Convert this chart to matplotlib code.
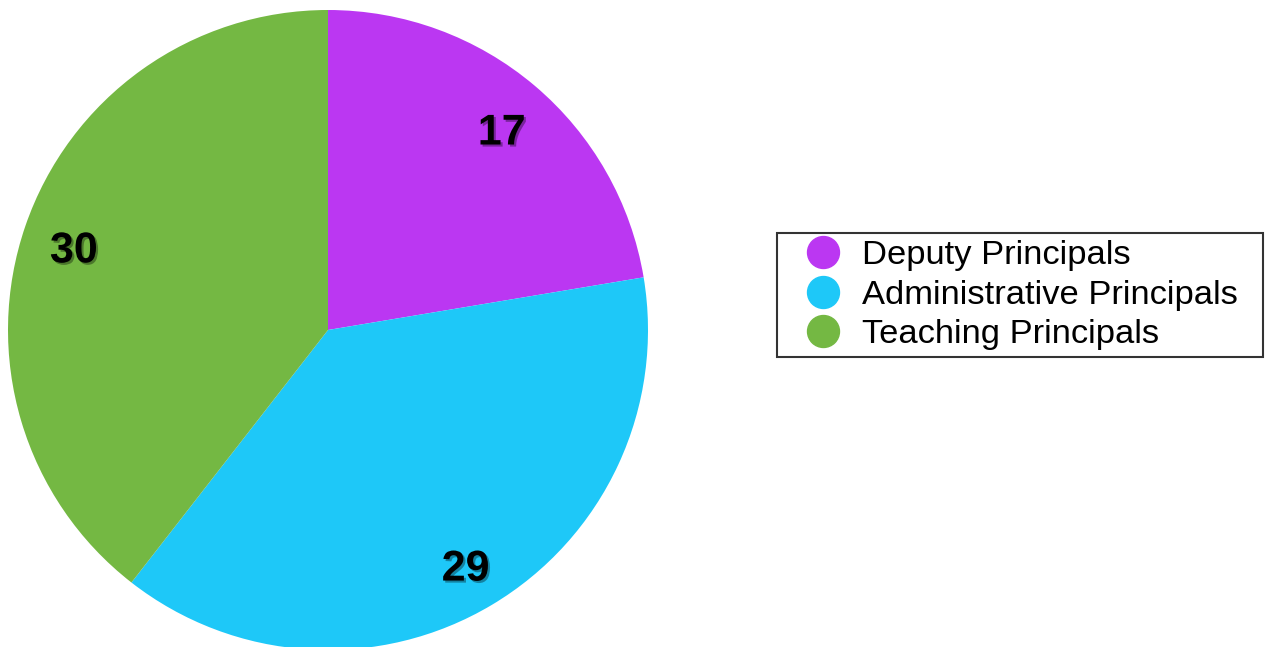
import matplotlib
matplotlib.use("Agg")
import matplotlib.pyplot as plt
import matplotlib.patheffects as pe
from matplotlib.lines import Line2D

plt.rcParams['font.family'] = ['Liberation Sans', 'DejaVu Sans']

# data
categories = ['Deputy Principals', 'Administrative Principals', 'Teaching Principals']
counts = [17, 29, 30]
colors = ['#BB37F2', '#1EC8F8', '#74B843']

fig = plt.figure(figsize=(12.65, 6.47), dpi=100)
ax = fig.add_axes([8 / 1265, -3 / 647, 640 / 1265, 640 / 647])

wedges, texts, autotexts = ax.pie(
    counts, colors=colors, startangle=90, counterclock=False,
    radius=1.0, pctdistance=0.84,
    autopct=lambda p: '%d' % round(p * sum(counts) / 100.0),
    wedgeprops=dict(linewidth=0),
)
ax.set_xlim(-1, 1)
ax.set_ylim(-1, 1)
ax.set_aspect('equal')

shadow = [pe.SimplePatchShadow(offset=(1.5, -1.5), shadow_rgbFace='black', alpha=0.35),
          pe.Normal()]
for t in autotexts:
    x, y = t.get_position()
    t.set_position((x, y - 0.027))
    t.set_fontsize(31)
    t.set_fontweight('bold')
    t.set_color('black')
    t.set_path_effects(shadow)

handles = [Line2D([], [], linestyle='none', marker='o', markersize=23,
                  markerfacecolor=c, markeredgecolor=c) for c in colors]
leg = fig.legend(handles, categories, loc='upper left',
                 bbox_to_anchor=(777 / 1265, 1 - 233 / 647, 486 / 1265, 0),
                 mode='expand',
                 borderaxespad=0, fancybox=False, frameon=True,
                 fontsize=24.8, handlelength=2.27, handletextpad=0.0,
                 labelspacing=0.25, borderpad=0.2)
leg.get_frame().set_edgecolor('black')
leg.get_frame().set_linewidth(1.5)

fig.savefig('out.png', dpi=100)
